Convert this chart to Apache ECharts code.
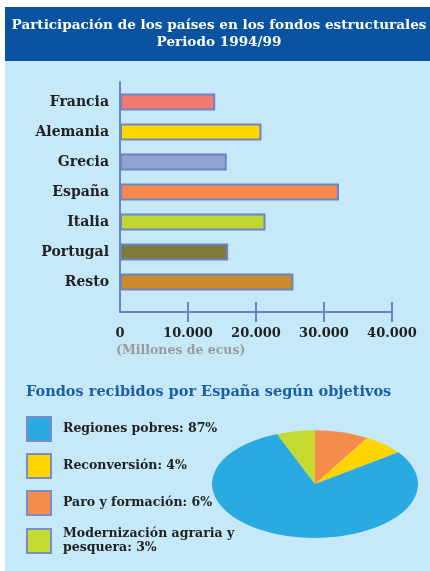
<!DOCTYPE html>
<html>
<head>
<meta charset="utf-8">
<script src="https://cdn.jsdelivr.net/npm/echarts@6/dist/echarts.min.js"></script>
<style>
  html, body { margin: 0; padding: 0; background: #fff; }
  #chart { width: 430px; height: 571px; }
</style>
</head>
<body>
<div id="chart"></div>
<script>
// paises y millones de ecus
var countries = ['Francia', 'Alemania', 'Grecia', 'España', 'Italia', 'Portugal', 'Resto'];
var funds = [14000, 20800, 15700, 32200, 21400, 15900, 25500];
var barColors = ['#f47a72', '#ffd500', '#93a3d2', '#f68a4a', '#c2d633', '#7e7a3c', '#cc8a2c'];
var xTicks = [0, 10000, 20000, 30000, 40000];
var xTickLabels = ['0', '10.000', '20.000', '30.000', '40.000'];

// tarta: orden en sentido horario desde arriba
var pieNames = ['Paro', 'Reconversion', 'Regiones', 'Modernizacion'];
var pieValues = [8.5, 6.5, 79, 6];
var pieColors = ['#f68c4c', '#ffd400', '#29aae1', '#c5da30'];
var legendOrder = ['Regiones', 'Reconversion', 'Paro', 'Modernizacion'];
var legendLabels = ['Regiones pobres: 87%', 'Reconversión: 4%', 'Paro y formación: 6%', 'Modernización agraria y\npesquera: 3%'];

var font = 'DejaVu Serif';
var axisBlue = '#6b84c4';

var myChart = echarts.init(document.getElementById('chart'));

var total = 0;
for (var i = 0; i < pieValues.length; i++) total += pieValues[i];

function sectorSeries(i) {
    var before = 0;
    for (var j = 0; j < i; j++) before += pieValues[j];
    return {
        type: 'custom',
        name: pieNames[i],
        coordinateSystem: 'none',
        color: pieColors[i],
        data: [pieValues[i]],
        renderItem: function (params, api) {
            var start = -Math.PI / 2 + Math.PI * 2 * before / total;
            var end = start + Math.PI * 2 * api.value(0) / total;
            return {
                type: 'sector',
                x: 315, y: 484,
                scaleY: 0.523,
                shape: { cx: 0, cy: 0, r0: 0, r: 103, startAngle: start, endAngle: end, clockwise: true },
                style: { fill: pieColors[i] }
            };
        }
    };
}

var series = [{
    type: 'bar',
    xAxisIndex: 0,
    yAxisIndex: 0,
    barWidth: 17,
    data: funds.map(function (v, k) {
        return { value: v, itemStyle: { color: barColors[k] } };
    }),
    itemStyle: { borderColor: axisBlue, borderWidth: 2 }
}];
for (var s = 0; s < pieNames.length; s++) series.push(sectorSeries(s));

var option = {
    animation: false,
    backgroundColor: '#fff',
    graphic: [
        { type: 'rect', z: -10, shape: { x: 5, y: 60, width: 425, height: 511 }, style: { fill: '#c6e9f9' } },
        { type: 'rect', z: -10, shape: { x: 5, y: 7, width: 425, height: 54 }, style: { fill: '#0a53a0' } }
    ],
    title: [
        {
            text: 'Participación de los países en los fondos estructurales\nPeriodo 1994/99',
            left: 219, top: 17, textAlign: 'center', padding: 0,
            textStyle: { color: '#fff', fontFamily: font, fontSize: 13.6, fontWeight: 'bold', lineHeight: 17 }
        },
        {
            text: 'Fondos recibidos por España según objetivos',
            left: 26, top: 385, padding: 0,
            textStyle: { color: '#1d5ea8', fontFamily: font, fontSize: 14.5, fontWeight: 'bold' }
        },
        {
            text: '(Millones de ecus)',
            left: 116, top: 344, padding: 0,
            textStyle: { color: '#9a9a9a', fontFamily: font, fontSize: 12.5, fontWeight: 'bold' }
        }
    ],
    legend: {
        orient: 'vertical',
        left: 26, top: 416, height: 200, padding: 0,
        itemWidth: 24, itemHeight: 24,
        itemGap: 11,
        icon: 'rect',
        data: legendOrder,
        itemStyle: { borderColor: '#7a8cc8', borderWidth: 2 },
        selectedMode: false,
        formatter: function (name) {
            return legendLabels[legendOrder.indexOf(name)];
        },
        textStyle: { color: '#222', fontFamily: font, fontSize: 12.5, fontWeight: 'bold', lineHeight: 14, padding: [0, 0, 0, 7] }
    },
    grid: [
        { left: 120, top: 87, width: 272, height: 210 },
        { left: 120, top: 82, width: 272, height: 230 }
    ],
    xAxis: [
        { gridIndex: 0, type: 'value', min: 0, max: 40000, show: false },
        {
            gridIndex: 1, type: 'value', position: 'bottom', min: 0, max: 40000, interval: 10000,
            axisLine: { show: true, lineStyle: { color: axisBlue, width: 2 } },
            axisTick: { show: true, customValues: xTicks.slice(1), length: 10, lineStyle: { color: axisBlue, width: 2 } },
            axisLabel: {
                customValues: xTicks, margin: 15,
                color: '#222', fontFamily: font, fontSize: 13, fontWeight: 'bold',
                formatter: function (v) { return xTickLabels[xTicks.indexOf(v)]; }
            },
            splitLine: { show: false }
        },
        {
            gridIndex: 1, type: 'value', position: 'bottom', min: 0, max: 40000, interval: 10000,
            axisLine: { show: false },
            axisTick: { show: true, inside: true, customValues: xTicks.slice(1), length: 10, lineStyle: { color: axisBlue, width: 2 } },
            axisLabel: { show: false },
            splitLine: { show: false }
        }
    ],
    yAxis: [
        {
            gridIndex: 0, type: 'category', inverse: true, data: countries,
            axisLine: { show: false }, axisTick: { show: false },
            axisLabel: { margin: 11, color: '#222', fontFamily: font, fontSize: 14, fontWeight: 'bold' }
        },
        {
            gridIndex: 1, type: 'value', min: 0, max: 1,
            axisLine: { show: true, lineStyle: { color: axisBlue, width: 2 } },
            axisTick: { show: false }, axisLabel: { show: false }, splitLine: { show: false }
        }
    ],
    series: series
};

myChart.setOption(option);
</script>
</body>
</html>
